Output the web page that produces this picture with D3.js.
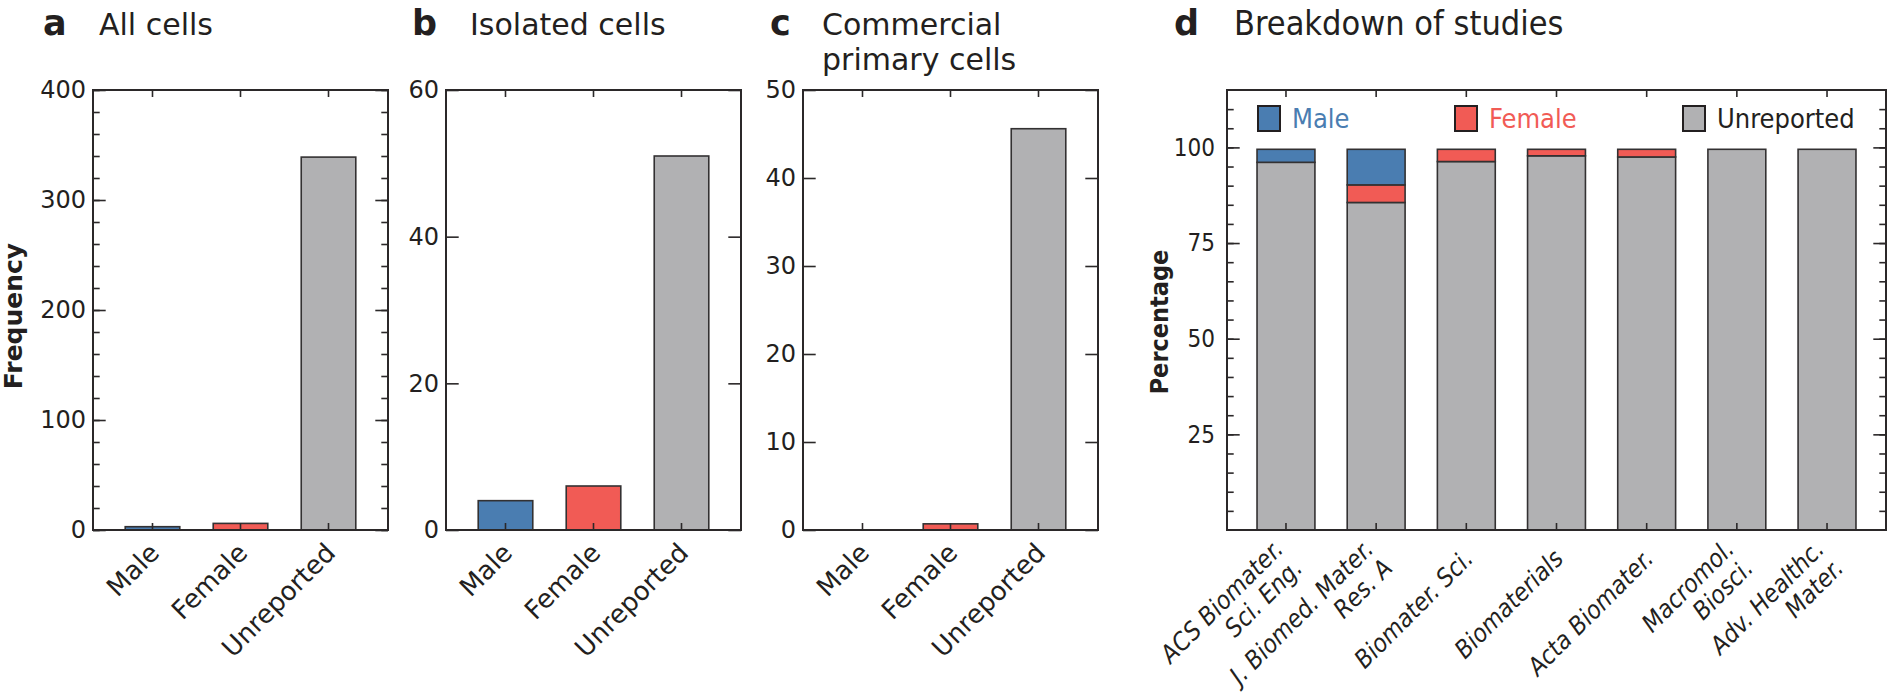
<!DOCTYPE html>
<html>
<head>
<meta charset="utf-8">
<script src="https://cdn.jsdelivr.net/npm/d3@7"></script>
<style>
  body { margin: 0; background: #fff; }
  svg { display: block; }
  text { fill: #231f20; }
  .wide { font-family: 'DejaVu Sans', sans-serif; }
  .narrow { font-family: 'DejaVu Sans Condensed', 'DejaVu Sans', sans-serif; font-stretch: condensed; }
</style>
</head>
<body>
<svg id="chart" width="1888" height="695"></svg>
<script>
// ---- data ----
const sexCategories = ['Male', 'Female', 'Unreported'];
const allCellsCounts = [3, 6, 339];
const isolatedCounts = [4, 6, 51];
const commercialCounts = [0, 0.7, 45.6];

const allCellsTicks = [0, 100, 200, 300, 400];
const isolatedTicks = [0, 20, 40, 60];
const commercialTicks = [0, 10, 20, 30, 40, 50];

const journals = [
  ['ACS Biomater.', 'Sci. Eng.'],
  ['J. Biomed. Mater.', 'Res. A'],
  ['Biomater. Sci.'],
  ['Biomaterials'],
  ['Acta Biomater.'],
  ['Macromol.', 'Biosci.'],
  ['Adv. Healthc.', 'Mater.']
];
const unreportedPct = [96.1, 85.6, 96.3, 97.8, 97.5, 99.5, 99.5];
const femalePct = [0, 4.6, 3.2, 1.7, 2.0, 0, 0];
const malePct = [3.4, 9.3, 0, 0, 0, 0, 0];
const pctTicks = [25, 50, 75, 100];

// ---- look ----
const colorMale = '#4a7db1';
const colorFemale = '#f15b55';
const colorUnrep = '#b1b1b3';
const sexColors = [colorMale, colorFemale, colorUnrep];
const axisColor = '#2b2829';
const barStroke = '#333132';

const plotTop = 90;
const plotBottom = 530;
const plotH = plotBottom - plotTop;
const tickMajor = 12.7;
const tickMinor = 6.7;
const tickX = 7;

const svg = d3.select('#chart');

// small helper: draw an axis as tick marks only
const tickLayer = (g, axis, tx, ty) => g.append('g')
  .attr('transform', `translate(${tx},${ty})`)
  .call(axis)
  .call(a => a.select('.domain').remove())
  .call(a => a.selectAll('line').attr('stroke', axisColor).attr('stroke-width', 1.6));

const title = (letter, lines, letterX, titleX, cls) => {
  svg.append('text')
    .attr('class', 'wide')
    .attr('x', letterX).attr('y', 35)
    .attr('font-size', 35).attr('font-weight', 'bold')
    .text(letter);
  lines.forEach((t, i) => {
    svg.append('text')
      .attr('class', cls)
      .attr('x', titleX).attr('y', 35 + i * 35)
      .attr('font-size', cls === 'wide' ? 30 : 34)
      .text(t);
  });
};

// ---- panels a, b, c ----
const smallPanels = [
  { letter: 'a', title: ['All cells'], left: 93, letterX: 43, titleX: 99,
    values: allCellsCounts, major: allCellsTicks, minor: d3.range(0, 401, 20), ylabel: 'Frequency' },
  { letter: 'b', title: ['Isolated cells'], left: 446, letterX: 412, titleX: 470,
    values: isolatedCounts, major: isolatedTicks, minor: [] },
  { letter: 'c', title: ['Commercial', 'primary cells'], left: 803, letterX: 770, titleX: 822,
    values: commercialCounts, major: commercialTicks, minor: [] }
];

smallPanels.forEach(p => {
  const w = 295;
  const g = svg.append('g').attr('transform', `translate(${p.left},${plotTop})`);
  const x = d3.scaleBand().domain(sexCategories).range([0, w])
    .paddingInner(0.38).paddingOuter(0.366);
  const y = d3.scaleLinear().domain([0, d3.max(p.major)]).range([plotH, 0]);

  g.selectAll('rect.bar').data(p.values).join('rect')
    .attr('class', 'bar')
    .attr('x', (d, i) => x(sexCategories[i]))
    .attr('width', x.bandwidth())
    .attr('y', d => y(d))
    .attr('height', d => plotH - y(d))
    .attr('fill', (d, i) => sexColors[i])
    .attr('stroke', barStroke)
    .attr('stroke-width', 1.6);

  tickLayer(g, d3.axisRight(y).tickValues(p.minor).tickSize(tickMinor).tickFormat(''), 0, 0);
  tickLayer(g, d3.axisRight(y).tickValues(p.major).tickSize(tickMajor).tickFormat(''), 0, 0);
  tickLayer(g, d3.axisLeft(y).tickValues(p.minor).tickSize(tickMinor).tickFormat(''), w, 0);
  tickLayer(g, d3.axisLeft(y).tickValues(p.major).tickSize(tickMajor).tickFormat(''), w, 0);
  tickLayer(g, d3.axisBottom(x).tickSize(tickX).tickFormat(''), 0, 0);
  tickLayer(g, d3.axisTop(x).tickSize(tickX).tickFormat(''), 0, plotH);

  // tick labels
  g.append('g')
    .call(d3.axisLeft(y).tickValues(p.major).tickSize(0).tickPadding(7))
    .call(a => a.select('.domain').remove())
    .call(a => a.selectAll('text')
      .attr('class', 'wide')
      .attr('font-size', 24)
      .attr('fill', '#231f20'))
    .attr('font-family', null);

  g.append('rect')
    .attr('width', w).attr('height', plotH)
    .attr('fill', 'none').attr('stroke', axisColor).attr('stroke-width', 2);

  g.selectAll('text.cat').data(sexCategories).join('text')
    .attr('class', 'cat wide')
    .attr('font-size', 26)
    .attr('text-anchor', 'end')
    .attr('dy', '0.35em')
    .attr('transform', d => `translate(${x(d) + x.bandwidth() / 2 + 2},${plotH + 18}) rotate(-45)`)
    .text(d => d);

  if (p.ylabel) {
    svg.append('text')
      .attr('class', 'wide')
      .attr('font-size', 25).attr('font-weight', 'bold')
      .attr('text-anchor', 'middle')
      .attr('transform', `translate(22,316) rotate(-90)`)
      .text(p.ylabel);
  }

  title(p.letter, p.title, p.letterX, p.titleX, 'wide');
});

// ---- panel d ----
const dLeft = 1227;
const dRight = 1886;
const dW = dRight - dLeft;
const journalKeys = journals.map(j => j.join(' '));
const rows = journalKeys.map((k, i) => ({
  key: k, Unreported: unreportedPct[i], Female: femalePct[i], Male: malePct[i]
}));
const stackKeys = ['Unreported', 'Female', 'Male'];
const stackColor = { Unreported: colorUnrep, Female: colorFemale, Male: colorMale };
const series = d3.stack().keys(stackKeys)(rows);

const gd = svg.append('g').attr('transform', `translate(${dLeft},${plotTop})`);
const xd = d3.scaleBand().domain(journalKeys).range([0, dW])
  .paddingInner(0.358).paddingOuter(0.333);
const yd = d3.scaleLinear().domain([0, 115]).range([plotH, 0]);

gd.selectAll('g.layer').data(series).join('g')
  .attr('class', 'layer')
  .attr('fill', s => stackColor[s.key])
  .selectAll('rect').data(s => s.filter(d => d[1] - d[0] > 0)).join('rect')
    .attr('x', d => xd(d.data.key))
    .attr('width', xd.bandwidth())
    .attr('y', d => yd(d[1]))
    .attr('height', d => yd(d[0]) - yd(d[1]))
    .attr('stroke', barStroke)
    .attr('stroke-width', 1.6);

const pctMinor = d3.range(5, 115, 5);
tickLayer(gd, d3.axisRight(yd).tickValues(pctMinor).tickSize(tickMinor).tickFormat(''), 0, 0);
tickLayer(gd, d3.axisRight(yd).tickValues(pctTicks).tickSize(tickMajor).tickFormat(''), 0, 0);
tickLayer(gd, d3.axisLeft(yd).tickValues(pctMinor).tickSize(tickMinor).tickFormat(''), dW, 0);
tickLayer(gd, d3.axisLeft(yd).tickValues(pctTicks).tickSize(tickMajor).tickFormat(''), dW, 0);
tickLayer(gd, d3.axisBottom(xd).tickSize(tickX).tickFormat(''), 0, 0);
tickLayer(gd, d3.axisTop(xd).tickSize(tickX).tickFormat(''), 0, plotH);

gd.append('g')
  .call(d3.axisLeft(yd).tickValues(pctTicks).tickSize(0).tickPadding(12))
  .call(a => a.select('.domain').remove())
  .call(a => a.selectAll('text')
    .attr('class', 'narrow')
    .attr('font-size', 24)
    .attr('fill', '#231f20'))
  .attr('font-family', null);

gd.append('rect')
  .attr('width', dW).attr('height', plotH)
  .attr('fill', 'none').attr('stroke', axisColor).attr('stroke-width', 2);

// journal labels, rotated, multi-line
const lineGap = 27;
journals.forEach((lines, i) => {
  const cx = xd(journalKeys[i]) + xd.bandwidth() / 2;
  lines.forEach((t, j) => {
    const off = (j - (lines.length - 1) / 2) * lineGap * Math.SQRT1_2;
    gd.append('text')
      .attr('class', 'narrow')
      .attr('font-size', 25)
      .attr('font-style', 'italic')
      .attr('text-anchor', 'end')
      .attr('dy', '0.35em')
      .attr('transform', `translate(${cx + 2 + off},${plotH + 24 + off}) rotate(-45)`)
      .text(t);
  });
});

// legend
const legendItems = [
  { key: 'Male', color: colorMale, x: 1258, text: colorMale },
  { key: 'Female', color: colorFemale, x: 1455, text: colorFemale },
  { key: 'Unreported', color: colorUnrep, x: 1683, text: '#231f20' }
];
const lg = svg.append('g');
legendItems.forEach(item => {
  lg.append('rect')
    .attr('x', item.x).attr('y', 106)
    .attr('width', 22).attr('height', 25)
    .attr('fill', item.color)
    .attr('stroke', '#231f20').attr('stroke-width', 2);
  lg.append('text')
    .attr('class', 'narrow')
    .attr('x', item.x + 34).attr('y', 128)
    .attr('font-size', 27)
    .style('fill', item.text)
    .text(item.key);
});

svg.append('text')
  .attr('class', 'narrow')
  .attr('font-size', 25).attr('font-weight', 'bold')
  .attr('text-anchor', 'middle')
  .attr('transform', `translate(1168,322) rotate(-90)`)
  .text('Percentage');

title('d', ['Breakdown of studies'], 1174, 1234, 'narrow');
</script>
</body>
</html>
